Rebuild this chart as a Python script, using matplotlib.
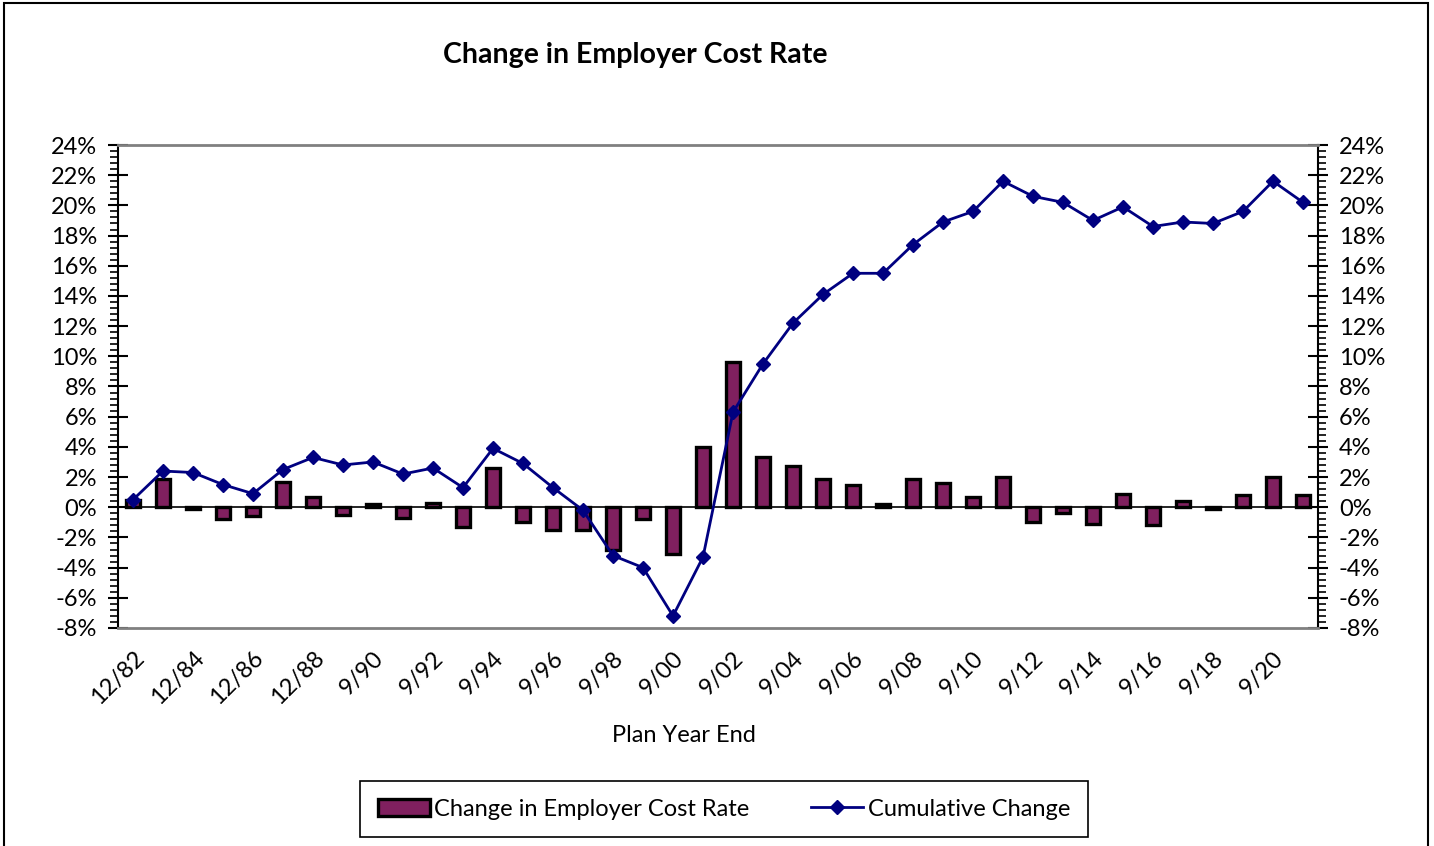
import numpy as np
import matplotlib
matplotlib.use("Agg")
import matplotlib.pyplot as plt
from matplotlib.patches import Rectangle
from matplotlib.ticker import MultipleLocator, FuncFormatter

plt.rcParams["font.family"] = ["Lato", "DejaVu Sans"]

# plan year ends
years = ["12/82", "12/83", "12/84", "12/85", "12/86", "12/87", "12/88", "12/89",
         "9/90", "9/91", "9/92", "9/93", "9/94", "9/95", "9/96", "9/97",
         "9/98", "9/99", "9/00", "9/01", "9/02", "9/03", "9/04", "9/05",
         "9/06", "9/07", "9/08", "9/09", "9/10", "9/11", "9/12", "9/13",
         "9/14", "9/15", "9/16", "9/17", "9/18", "9/19", "9/20", "9/21"]

# yearly change in employer cost rate (%)
change = [0.5, 1.9, -0.1, -0.8, -0.6, 1.7, 0.7, -0.5,
          0.2, -0.7, 0.3, -1.3, 2.6, -1.0, -1.5, -1.5,
          -2.8, -0.8, -3.1, 4.0, 9.6, 3.3, 2.7, 1.9,
          1.5, 0.2, 1.9, 1.6, 0.7, 2.0, -1.0, -0.4,
          -1.1, 0.9, -1.2, 0.4, -0.1, 0.8, 2.0, 0.8]

# cumulative change (%)
cumulative = [0.5, 2.4, 2.3, 1.5, 0.9, 2.5, 3.3, 2.8,
              3.0, 2.2, 2.6, 1.3, 3.9, 2.9, 1.3, -0.2,
              -3.2, -4.0, -7.2, -3.3, 6.3, 9.5, 12.2, 14.1,
              15.5, 15.5, 17.4, 18.9, 19.6, 21.6, 20.6, 20.2,
              19.0, 19.9, 18.6, 18.9, 18.8, 19.6, 21.6, 20.2]

W, H = 1434, 846
fig = plt.figure(figsize=(W / 100, H / 100), dpi=100)
ax = fig.add_axes([118 / W, 1 - 628 / H, 1200 / W, 483 / H])

x = np.arange(len(years))
bar_color = "#80205F"
line_color = "#000080"

bars = ax.bar(x, change, width=0.45, color=bar_color, edgecolor="black",
              linewidth=2.4, zorder=2)
ax.axhline(0, color="black", linewidth=1.2, zorder=1)
line, = ax.plot(x, cumulative, color=line_color, linewidth=2, marker="D",
                markersize=7.5, zorder=3)

ax.set_xlim(-0.5, len(years) - 0.5)
ax.set_ylim(-8, 24)
ax.yaxis.set_major_locator(MultipleLocator(2))
ax.yaxis.set_minor_locator(MultipleLocator(0.4))
ax.yaxis.set_major_formatter(FuncFormatter(lambda v, p: f"{v:.0f}%"))
ax.tick_params(axis="y", which="major", direction="inout", length=14, width=1.5,
               labelsize=17, right=True, labelright=True, pad=8)
ax.tick_params(axis="y", which="minor", direction="out", length=6, width=1.2,
               right=True)

ax.set_xticks(x[::2])
ax.set_xticklabels(years[::2], rotation=45, ha="right", rotation_mode="anchor",
                   fontsize=17)
ax.tick_params(axis="x", length=0, pad=14)

for side in ("left", "right"):
    ax.spines[side].set_color("black")
    ax.spines[side].set_linewidth(1.5)
for side in ("top", "bottom"):
    ax.spines[side].set_color("#808080")
    ax.spines[side].set_linewidth(2)

fig.text(635 / W, 1 - 55 / H, "Change in Employer Cost Rate", ha="center",
         va="center", fontsize=20.5, fontweight="bold")
fig.text(684 / W, 1 - 735 / H, "Plan Year End", ha="center", va="center",
         fontsize=17)

leg = fig.legend([bars, line], ["Change in Employer Cost Rate", "Cumulative Change"],
                 loc="center", bbox_to_anchor=(724 / W, 1 - 809 / H), ncol=2,
                 fontsize=17, frameon=True, fancybox=False, edgecolor="black",
                 framealpha=1, handlelength=2.2, handletextpad=0.2,
                 columnspacing=2.6, borderpad=0.75, borderaxespad=0)
leg.get_frame().set_linewidth(1.2)

# outer chart border
fig.patches.append(Rectangle((4 / W, -0.02), 1424 / W, 1.02 - 3 / H,
                             transform=fig.transFigure, fill=False,
                             edgecolor="black", linewidth=1.5))

fig.savefig("out.png", dpi=100, facecolor="white")
